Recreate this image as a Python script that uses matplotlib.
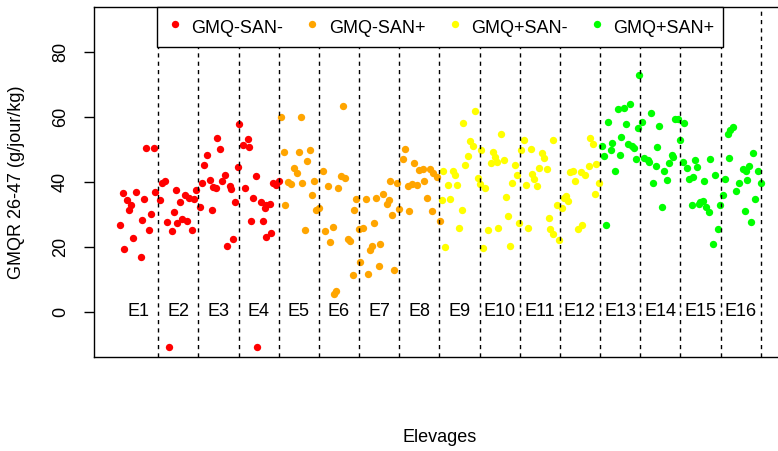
import matplotlib
matplotlib.use("Agg")
import matplotlib.pyplot as plt

plt.rcParams['font.family'] = ['Liberation Sans', 'DejaVu Sans']

# groups (elevages) and series
elevages = ['E%d' % i for i in range(1, 17)]
series_labels = ['GMQ-SAN-', 'GMQ-SAN+', 'GMQ+SAN-', 'GMQ+SAN+']
series_colors = ['#FF0000', '#FFA500', '#FFFF00', '#00FF00']

# GMQ-SAN- (E1-E4)
x_mm = [1.20, 1.39, 0.62, 0.94, 0.73, 0.81, 0.77, 1.14, 1.43, 1.54, 1.33, 0.55,
        1.10, 1.27, 0.88, 0.65, 1.06, 1.60, 1.66, 1.95, 1.89, 1.71, 1.83, 1.97,
        2.10, 2.21, 2.04, 2.16, 2.26, 2.39, 2.35, 2.43, 1.77, 2.54, 2.60, 2.64,
        2.72, 2.97, 3.04, 2.79, 2.87, 2.94, 2.83, 3.09, 3.15, 3.29, 3.32, 3.41,
        3.37, 3.22, 3.51, 3.48, 3.73, 3.60, 3.77, 3.93, 3.67, 3.87, 4.06, 4.18,
        4.27, 4.17, 3.81, 4.12, 4.18, 4.31, 4.36, 4.43, 4.50, 3.97]
y_mm = [50.6, 50.6, 36.6, 37.0, 34.4, 32.8, 31.3, 34.9, 36.8, 34.4, 30.2, 26.8,
        28.4, 25.1, 22.8, 19.2, 16.9, 39.8, 40.3, 37.6, 30.8, 27.7, 24.8, 27.5,
        28.7, 28.1, 33.9, 35.9, 35.1, 34.7, 25.1, 37.5, -11.0, 32.3, 39.8, 45.4,
        48.3, 53.5, 50.2, 40.6, 38.5, 38.3, 31.3, 40.3, 42.1, 38.8, 37.8, 33.9,
        22.5, 20.4, 57.8, 44.7, 53.3, 51.4, 50.9, 41.8, 38.3, 35.1, 33.9, 32.8,
        33.3, 32.0, 27.9, 27.9, 23.0, 24.3, 39.8, 39.0, 40.3, -11.0]

# GMQ-SAN+ (E5-E8)
x_mp = [4.56, 5.06, 4.62, 5.00, 5.28, 5.20, 4.89, 4.95, 4.72, 4.80, 5.09, 5.39,
        5.33, 4.66, 5.43, 5.49, 5.15, 5.59, 5.72, 5.97, 6.05, 6.16, 6.09, 5.66,
        5.84, 5.78, 6.22, 6.28, 6.42, 6.38, 6.49, 6.52, 6.34, 5.93, 5.87, 6.67,
        6.92, 7.10, 7.24, 7.19, 7.32, 6.88, 6.61, 6.82, 6.77, 7.02, 6.99, 6.71,
        7.38, 7.28, 7.44, 7.49, 7.75, 7.65, 7.60, 7.88, 8.00, 8.08, 8.27, 8.35,
        8.43, 7.73, 7.82, 7.93, 8.12, 8.19, 8.32, 8.51]
y_mp = [60.2, 60.2, 49.3, 49.3, 49.9, 46.4, 44.4, 42.9, 40.1, 39.5, 39.8, 40.3,
        35.9, 32.8, 31.3, 32.0, 25.2, 43.5, 38.8, 38.2, 41.8, 41.3, 63.5, 24.8,
        26.1, 21.5, 22.5, 21.8, 34.7, 31.3, 25.6, 15.3, 11.3, 6.5, 5.5, 34.7,
        35.1, 36.2, 34.4, 33.3, 29.9, 27.4, 25.8, 20.4, 18.9, 21.0, 14.2, 11.7,
        12.7, 40.4, 39.8, 31.6, 31.1, 50.2, 47.1, 46.0, 43.7, 43.9, 44.0, 42.9,
        41.6, 38.8, 39.3, 39.2, 40.3, 35.1, 31.1, 28.0]

# GMQ+SAN- (E9-E12)
x_pm = [8.60, 8.83, 8.90, 8.71, 8.93, 8.56, 8.77, 9.06, 9.00, 8.64, 9.08, 9.27,
        9.33, 9.21, 9.14, 9.39, 9.54, 9.45, 9.51, 9.64, 9.58, 10.03, 9.83, 9.89,
        9.78, 9.93, 10.12, 10.37, 10.42, 10.32, 10.16, 10.22, 9.97, 9.70, 10.27,
        10.47, 10.60, 10.53, 10.78, 10.66, 10.80, 10.86, 10.93, 11.05, 11.11,
        10.97, 11.17, 11.32, 11.43, 11.22, 10.71, 11.25, 11.34, 11.49, 11.55,
        11.65, 11.69, 11.61, 11.76, 11.82, 12.02, 12.13, 11.88, 12.22, 12.26,
        12.32, 12.38, 12.41, 12.48, 11.94, 12.05]
y_pm = [43.3, 43.3, 42.3, 39.2, 39.2, 34.4, 34.7, 31.5, 25.8, 19.9, 58.3, 52.6,
        51.1, 48.0, 45.4, 62.0, 49.9, 41.1, 39.5, 38.0, 19.6, 54.8, 49.3, 47.8,
        45.9, 46.2, 46.8, 45.4, 42.1, 39.8, 35.4, 29.5, 25.8, 25.1, 20.2,
        27.4, 53.0, 49.8, 50.1, 39.2, 42.6, 40.8, 38.8, 49.1, 47.5,
        44.2, 43.9, 53.0, 32.8, 29.0, 25.8, 25.4, 24.1, 22.2, 32.0,
        35.7, 34.2, 35.1, 43.2, 43.4, 43.2, 42.3, 40.3, 45.0, 53.5,
        51.6, 36.4, 45.5, 39.8, 25.6, 26.6]

# GMQ+SAN+ (E13-E16)
x_pp = [12.55, 12.61, 12.65, 12.71, 12.81, 12.77, 13.02, 12.99, 12.88, 12.94,
        13.10, 13.25, 13.15, 13.20, 13.30, 13.35, 13.40, 13.46, 13.44, 13.55,
        13.77, 13.98, 13.91, 13.60, 13.69, 13.73, 13.89, 13.83, 14.04, 14.10,
        14.16, 14.21, 14.29, 14.32, 14.37, 14.43, 14.49, 14.60, 14.56, 14.66,
        14.87, 14.91, 14.72, 14.82, 15.10, 15.25, 15.37, 14.79, 15.00, 15.07,
        14.97, 15.14, 15.22, 15.43, 15.30, 15.80, 15.74, 15.68, 15.70, 16.32,
        15.62, 16.05, 16.20, 16.13, 16.44, 16.51, 15.97, 16.15, 15.88, 15.55,
        15.49, 16.37, 16.12, 16.26]
y_pp = [51.1, 48.1, 26.8, 58.6, 51.9, 49.9, 54.0, 48.3, 43.4, 62.4,
        62.8, 64.0, 57.8, 51.6, 51.1, 50.4, 47.1, 72.9, 56.8, 58.6,
        61.2, 57.4, 50.9, 47.3, 46.8, 46.2, 45.0, 39.8, 32.3, 43.4,
        40.6, 46.0, 48.3, 47.8, 59.3, 59.5, 52.9, 58.3, 46.2, 44.4,
        46.8, 44.7, 40.9, 41.4, 40.3, 47.1, 42.1, 33.0, 33.9, 34.1,
        33.3, 32.3, 30.8, 25.4, 20.9, 57.1, 56.0, 54.8, 47.5, 48.8,
        40.8, 44.0, 45.0, 43.4, 43.4, 39.8, 39.8, 40.6, 37.1, 36.1,
        32.8, 34.9, 31.0, 27.7]

series_x = [x_mm, x_mp, x_pm, x_pp]
series_y = [y_mm, y_mp, y_pm, y_pp]

yticks = [0, 20, 40, 60, 80]

fig = plt.figure(figsize=(7.78, 4.51), dpi=100)
ax = fig.add_axes([94 / 778, 1 - 357 / 451, 692.4 / 778, 350 / 451])

for xs, ys, col, lab in zip(series_x, series_y, series_colors, series_labels):
    ax.scatter(xs, ys, s=28, color=col, linewidths=0, label=lab, zorder=2)

# group separators and names
for i in range(1, len(elevages) + 1):
    ax.axvline(i + 0.5, color='black', lw=1.0, ls=(0, (3, 3)), zorder=3)
for i, name in enumerate(elevages, start=1):
    ax.text(i, 0, name, ha='center', va='center', fontsize=13, zorder=4)

ax.set_xlim(-0.1, 17.14)
ax.set_ylim(-14, 94)
ax.set_xticks([])
ax.set_yticks(yticks)
ax.set_yticklabels([str(v) for v in yticks], rotation=90, va='center')
ax.tick_params(axis='y', length=7, width=1, pad=11, labelsize=13)
for sp in ax.spines.values():
    sp.set_linewidth(1.0)

leg = ax.legend(loc='upper center', bbox_to_anchor=(0.5, 1.0), ncol=4,
                fontsize=13, frameon=True, fancybox=False, framealpha=1,
                edgecolor='black', borderaxespad=0, borderpad=0.46,
                handlelength=1.0, handleheight=1.6, handletextpad=0.43,
                columnspacing=1.1, scatterpoints=1)
leg.get_frame().set_linewidth(1.0)
leg.set_zorder(5)

fig.text(17 / 778, 1 - 182 / 451, 'GMQR 26-47 (g/jour/kg)', rotation=90,
         ha='center', va='center', fontsize=13)
fig.text(440 / 778, 1 - 437 / 451, 'Elevages', ha='center', va='center',
         fontsize=13)

fig.savefig('out.png', dpi=100)
